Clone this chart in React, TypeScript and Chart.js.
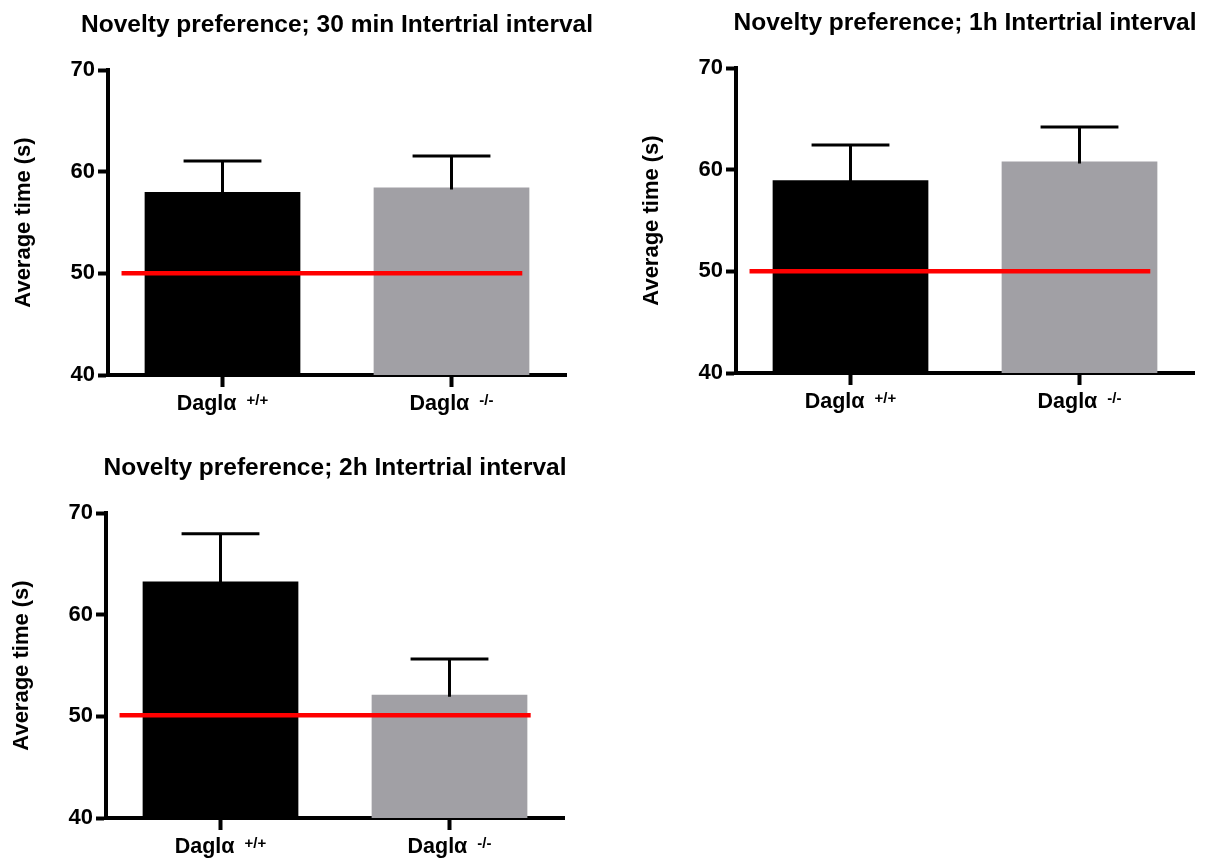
import React, { useEffect, useRef } from "react";
import { Chart, registerables } from "chart.js";

Chart.register(...registerables);

// ---- data ----
const categories = ["Daglα", "Daglα"];
const genotypes = ["+/+", "-/-"];
const barColors = ["#000000", "#a1a0a5"];

const title30 = "Novelty preference; 30 min Intertrial interval";
const title1h = "Novelty preference; 1h Intertrial interval";
const title2h = "Novelty preference; 2h Intertrial interval";

const means30 = [58.0, 58.45];
const sem30 = [3.05, 3.1];
const means1h = [58.95, 60.8];
const sem1h = [3.48, 3.4];
const means2h = [63.27, 52.13];
const sem2h = [4.69, 3.51];

const chance30 = [50, 50];
const chance1h = [50, 50];
const chance2h = [50.1, 50.1];
const chanceSpan30 = [-0.035, 1.89];
const chanceSpan1h = [-0.035, 1.89];
const chanceSpan2h = [-0.035, 1.94];

const yMin = 40;
const yMax = 70;
const yStep = 10;
const yTitle = "Average time (s)";

const FONT = "'Liberation Sans', Arial, Helvetica, sans-serif";

const panelTitlePlugin = {
  id: "panelTitle",
  afterDraw(chart: any, _args: any, opts: any) {
    const { ctx, chartArea } = chart;
    ctx.save();
    ctx.fillStyle = "#000";
    ctx.font = `bold 24.5px ${FONT}`;
    ctx.textAlign = "center";
    ctx.textBaseline = "alphabetic";
    ctx.fillText(opts.text, (chartArea.left + chartArea.right) / 2, chartArea.top - 38.5);
    ctx.restore();
  },
};

const errorBarPlugin = {
  id: "errorBars",
  afterDatasetsDraw(chart: any, _args: any, opts: any) {
    const { ctx } = chart;
    const yScale = chart.scales.y;
    const meta = chart.getDatasetMeta(0);
    const values = chart.data.datasets[0].data as number[];
    const errs: number[] = opts.errors || [];
    ctx.save();
    ctx.strokeStyle = "#000";
    ctx.lineWidth = 3;
    meta.data.forEach((bar: any, i: number) => {
      const cx = bar.x;
      const top = yScale.getPixelForValue(values[i] + errs[i]);
      const base = bar.y;
      const half = bar.width / 4;
      ctx.beginPath();
      ctx.moveTo(cx, base + 2);
      ctx.lineTo(cx, top);
      ctx.moveTo(cx - half, top);
      ctx.lineTo(cx + half, top);
      ctx.stroke();
    });
    ctx.restore();
  },
};

const xLabelPlugin = {
  id: "xLabels",
  afterDraw(chart: any, _args: any, opts: any) {
    const { ctx, chartArea } = chart;
    const xScale = chart.scales.x;
    const labels = chart.data.labels as string[];
    const sups: string[] = opts.sups || [];
    const mainFont = `bold 21.5px ${FONT}`;
    const supFont = `bold 15px ${FONT}`;
    const gap = 10;
    ctx.save();
    ctx.fillStyle = "#000";
    ctx.textAlign = "left";
    ctx.textBaseline = "alphabetic";
    labels.forEach((lab, i) => {
      const cx = xScale.getPixelForValue(i);
      ctx.font = mainFont;
      const w1 = ctx.measureText(lab).width;
      ctx.font = supFont;
      const w2 = ctx.measureText(sups[i]).width;
      const start = cx - (w1 + gap + w2) / 2;
      const base = chartArea.bottom + 35;
      ctx.font = mainFont;
      ctx.fillText(lab, start, base);
      ctx.font = supFont;
      ctx.fillText(sups[i], start + w1 + gap, base - 5);
    });
    ctx.restore();
  },
};

type PanelProps = {
  title: string;
  means: number[];
  sems: number[];
  chance: number[];
  span: number[];
  left: number;
  top: number;
};

function Panel({ title, means, sems, chance, span, left, top }: PanelProps) {
  const ref = useRef<HTMLCanvasElement | null>(null);
  useEffect(() => {
    if (!ref.current) return;
    const chart = new Chart(ref.current, {
      type: "bar",
      data: {
        labels: categories,
        datasets: [
          {
            type: "bar",
            data: means,
            backgroundColor: barColors,
            borderWidth: 0,
            grouped: false,
            barPercentage: 0.68,
            categoryPercentage: 1.0,
            xAxisID: "x",
            yAxisID: "y",
            order: 2,
          } as any,
          {
            type: "line",
            data: span.map((sx, i) => ({ x: sx, y: chance[i] })),
            borderColor: "#ff0000",
            borderWidth: 4.5,
            pointRadius: 0,
            tension: 0,
            fill: false,
            xAxisID: "xr",
            yAxisID: "y",
            clip: false,
            order: 1,
          } as any,
        ],
      },
      options: {
        animation: false,
        responsive: false,
        devicePixelRatio: 1,
        layout: { padding: { left: 0, right: 36, top: 66, bottom: 0 } },
        plugins: {
          legend: { display: false },
          tooltip: { enabled: false },
          title: { display: false },
          panelTitle: { text: title },
          errorBars: { errors: sems },
          xLabels: { sups: genotypes },
        } as any,
        scales: {
          x: {
            type: "category",
            offset: true,
            grid: {
              display: true,
              drawOnChartArea: false,
              drawTicks: true,
              offset: false,
              tickLength: 12,
              tickWidth: 4,
              tickColor: "#000",
            },
            border: { display: true, color: "#000", width: 4 },
            ticks: { display: false },
            afterFit: (s: any) => {
              s.height = 43;
            },
          },
          xr: {
            type: "linear",
            display: false,
            min: 0,
            max: 2,
          },
          y: {
            type: "linear",
            min: yMin,
            max: yMax,
            ticks: {
              stepSize: yStep,
              color: "#000",
              padding: 3,
              font: { family: FONT, size: 22, weight: "bold" },
            },
            grid: {
              display: true,
              drawOnChartArea: false,
              drawTicks: true,
              tickLength: 10,
              tickWidth: 4,
              tickColor: "#000",
            },
            border: { display: true, color: "#000", width: 4 },
            title: {
              display: true,
              text: yTitle,
              color: "#000",
              font: { family: FONT, size: 22, weight: "bold" },
              padding: { top: 9, bottom: 0 },
            },
            afterFit: (s: any) => {
              s.width = 106;
            },
          },
        } as any,
      },
      plugins: [errorBarPlugin, xLabelPlugin, panelTitlePlugin],
    });
    return () => chart.destroy();
  }, []);
  return (
    <canvas
      ref={ref}
      width={600}
      height={414}
      style={{ position: "absolute", left, top, width: 600, height: 414 }}
    />
  );
}

export default function App() {
  return (
    <div
      style={{
        position: "fixed",
        left: 0,
        top: 0,
        width: 1210,
        height: 861,
        overflow: "hidden",
        background: "#fff",
      }}
    >
      <Panel title={title30} means={means30} sems={sem30} chance={chance30} span={chanceSpan30} left={2} top={4} />
      <Panel title={title1h} means={means1h} sems={sem1h} chance={chance1h} span={chanceSpan1h} left={630} top={2} />
      <Panel title={title2h} means={means2h} sems={sem2h} chance={chance2h} span={chanceSpan2h} left={0} top={447} />
    </div>
  );
}
